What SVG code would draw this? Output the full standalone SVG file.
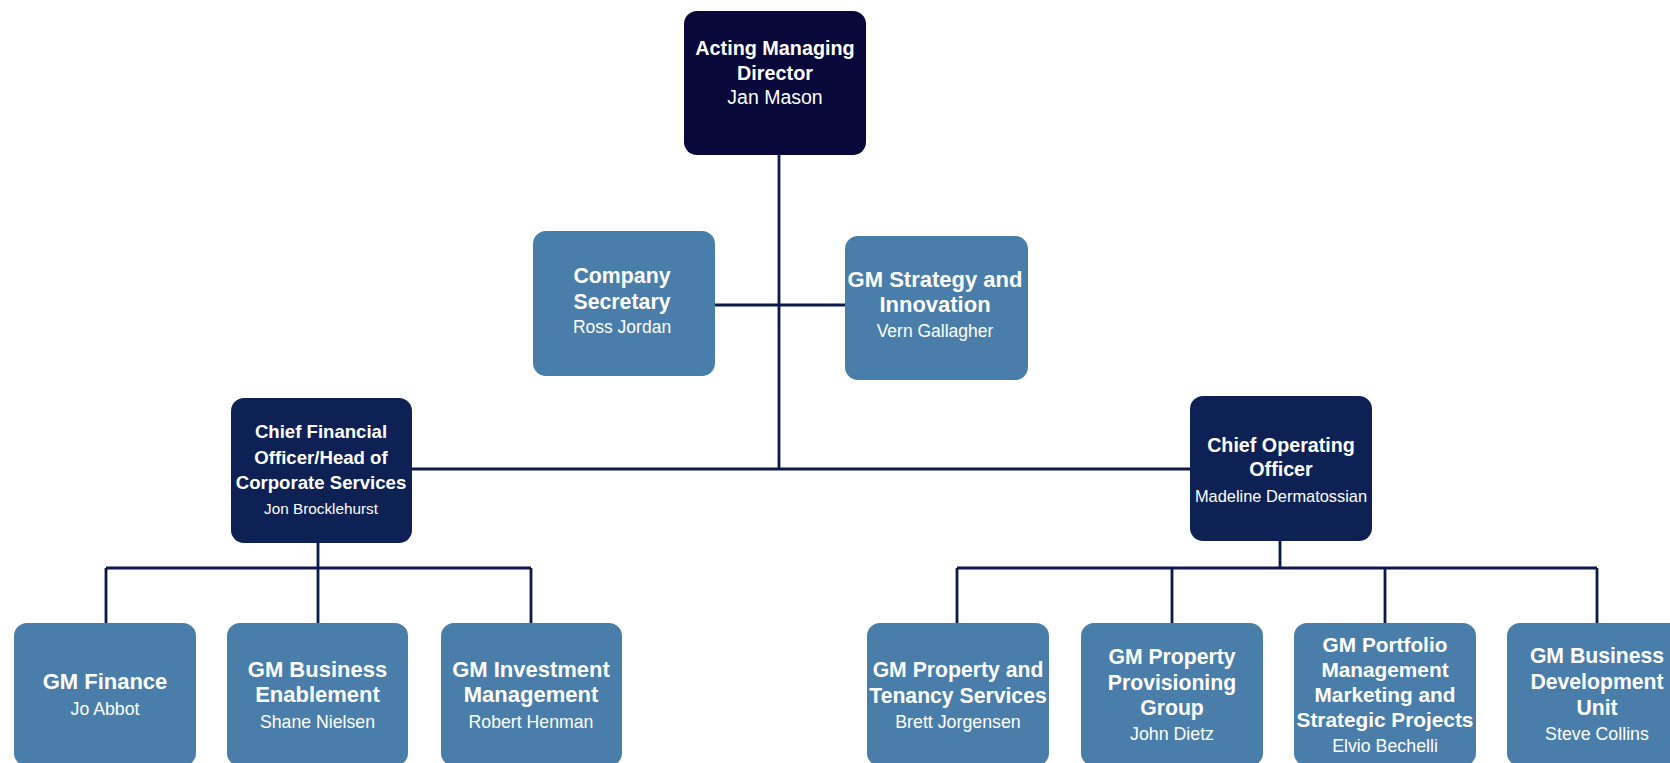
<svg xmlns="http://www.w3.org/2000/svg" width="1670" height="763" viewBox="0 0 1670 763">
  <style>
    .exec { fill: #08083a; }
    .chief { fill: #0d2155; }
    .gm { fill: #4a7eaa; }
    .link { fill: none; stroke: #0b1a4a; stroke-width: 2.8; }
    text { fill: #ffffff; font-family: "Liberation Sans", Arial, Helvetica, sans-serif; text-anchor: middle; }
    .t { font-weight: bold; }
  </style>
  <rect width="1670" height="763" fill="#ffffff"/>

  <!-- reporting lines -->
  <g id="connectors">
    <path class="link" d="M779 155 V469"/>
    <path class="link" d="M715 305 H845"/>
    <path class="link" d="M412 469 H1190"/>
    <path class="link" d="M318 543 V568 M106 568 H531 M106 568 V623 M318 568 V623 M531 568 V623"/>
    <path class="link" d="M1280 541 V568 M957 568 H1597 M957 568 V623 M1172 568 V623 M1385 568 V623 M1597 568 V623"/>
  </g>

  <g id="acting-managing-director">
    <rect class="exec" x="684" y="11" width="182" height="144" rx="13"/>
    <text class="t" x="775" y="55" font-size="19.8">Acting Managing</text>
    <text class="t" x="775" y="80" font-size="19.8">Director</text>
    <text x="775" y="104" font-size="19.5">Jan Mason</text>
  </g>

  <g id="company-secretary">
    <rect class="gm" x="533" y="231" width="182" height="145" rx="13"/>
    <text class="t" x="622" y="283" font-size="21.3">Company</text>
    <text class="t" x="622" y="309" font-size="21.3">Secretary</text>
    <text x="622" y="333" font-size="17.5">Ross Jordan</text>
  </g>

  <g id="gm-strategy">
    <rect class="gm" x="845" y="236" width="183" height="144" rx="13"/>
    <text class="t" x="935" y="287" font-size="22">GM Strategy and</text>
    <text class="t" x="935" y="312" font-size="22">Innovation</text>
    <text x="935" y="337" font-size="17.5">Vern Gallagher</text>
  </g>

  <g id="cfo">
    <rect class="chief" x="231" y="398" width="181" height="145" rx="13"/>
    <text class="t" x="321" y="438" font-size="18.6">Chief Financial</text>
    <text class="t" x="321" y="464" font-size="18.6">Officer/Head of</text>
    <text class="t" x="321" y="489" font-size="18.6">Corporate Services</text>
    <text x="321" y="514" font-size="15.3">Jon Brocklehurst</text>
  </g>

  <g id="coo">
    <rect class="chief" x="1190" y="396" width="182" height="145" rx="13"/>
    <text class="t" x="1281" y="452" font-size="19.7">Chief Operating</text>
    <text class="t" x="1281" y="476" font-size="19.7">Officer</text>
    <text x="1281" y="502" font-size="16.4">Madeline Dermatossian</text>
  </g>

  <g id="gm-finance">
    <rect class="gm" x="14" y="623" width="182" height="143" rx="13"/>
    <text class="t" x="105" y="689" font-size="22">GM Finance</text>
    <text x="105" y="715" font-size="17.7">Jo Abbot</text>
  </g>

  <g id="gm-business-enablement">
    <rect class="gm" x="227" y="623" width="181" height="143" rx="13"/>
    <text class="t" x="317.5" y="677" font-size="22">GM Business</text>
    <text class="t" x="317.5" y="702" font-size="22">Enablement</text>
    <text x="317.5" y="728" font-size="17.7">Shane Nielsen</text>
  </g>

  <g id="gm-investment">
    <rect class="gm" x="441" y="623" width="181" height="143" rx="13"/>
    <text class="t" x="531" y="677" font-size="22">GM Investment</text>
    <text class="t" x="531" y="702" font-size="22">Management</text>
    <text x="531" y="728" font-size="17.7">Robert Henman</text>
  </g>

  <g id="gm-property-tenancy">
    <rect class="gm" x="867" y="623" width="182" height="143" rx="13"/>
    <text class="t" x="958" y="677" font-size="21.2">GM Property and</text>
    <text class="t" x="958" y="703" font-size="21.2">Tenancy Services</text>
    <text x="958" y="728" font-size="17.8">Brett Jorgensen</text>
  </g>

  <g id="gm-property-provisioning">
    <rect class="gm" x="1081" y="623" width="182" height="143" rx="13"/>
    <text class="t" x="1172" y="664" font-size="21.2">GM Property</text>
    <text class="t" x="1172" y="690" font-size="21.2">Provisioning</text>
    <text class="t" x="1172" y="715" font-size="21.2">Group</text>
    <text x="1172" y="740" font-size="17.8">John Dietz</text>
  </g>

  <g id="gm-portfolio">
    <rect class="gm" x="1294" y="623" width="182" height="143" rx="13"/>
    <text class="t" x="1385" y="652" font-size="20.8">GM Portfolio</text>
    <text class="t" x="1385" y="677" font-size="20.8">Management</text>
    <text class="t" x="1385" y="702" font-size="20.8">Marketing and</text>
    <text class="t" x="1385" y="727" font-size="20.8">Strategic Projects</text>
    <text x="1385" y="752" font-size="17.8">Elvio Bechelli</text>
  </g>

  <g id="gm-business-development">
    <rect class="gm" x="1507" y="623" width="182" height="143" rx="13"/>
    <text class="t" x="1597" y="663" font-size="21.2">GM Business</text>
    <text class="t" x="1597" y="689" font-size="21.2">Development</text>
    <text class="t" x="1597" y="715" font-size="21.2">Unit</text>
    <text x="1597" y="740" font-size="17.8">Steve Collins</text>
  </g>
</svg>
